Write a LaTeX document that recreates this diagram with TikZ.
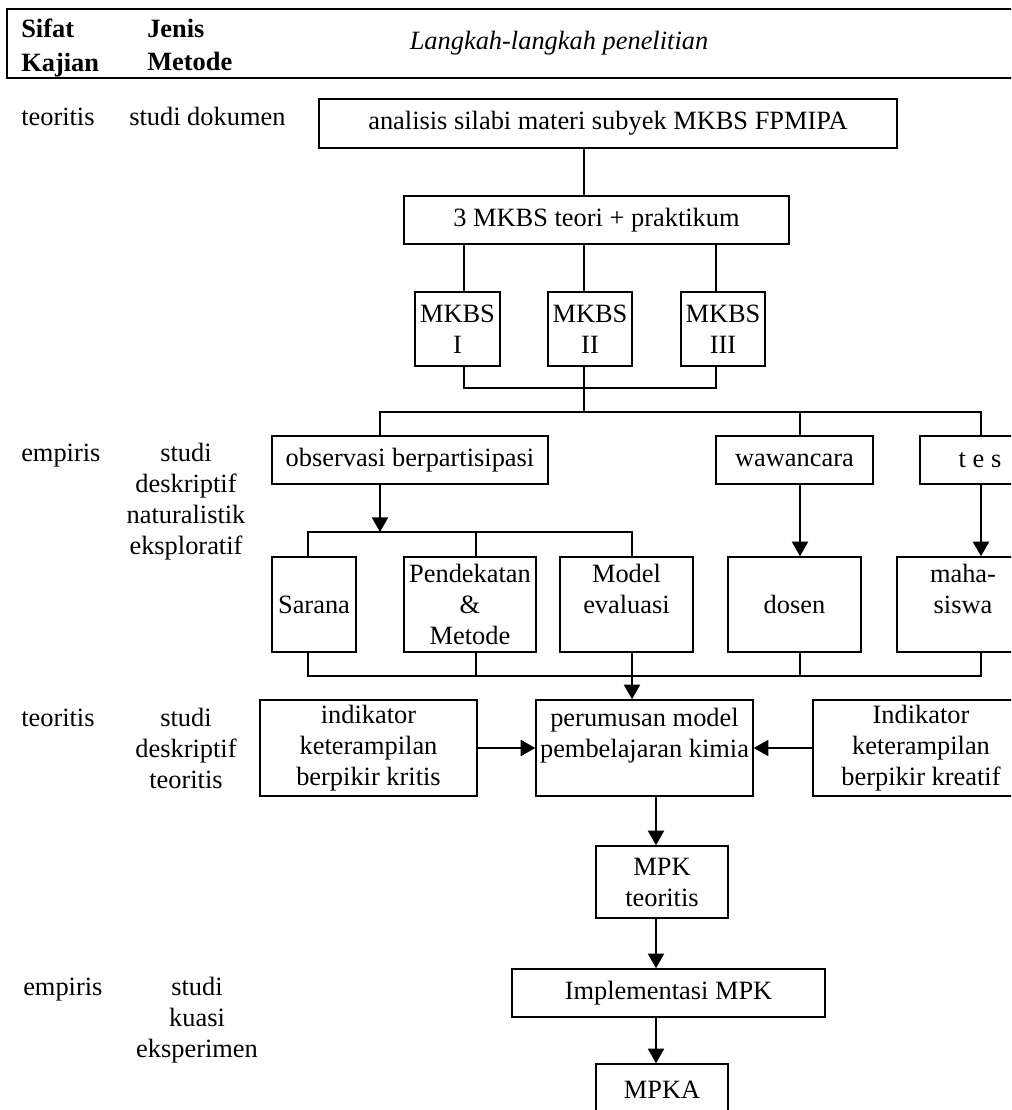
\documentclass[tikz,border=0pt]{standalone}
\usepackage{fontspec}
\setmainfont{Liberation Serif}
\usetikzlibrary{arrows.meta}
\newcommand{\fs}{\fontsize{19.8pt}{23.25pt}\selectfont}
\begin{document}
\begin{tikzpicture}[x=0.75pt,y=-0.75pt,
  bx/.style 2 args={draw, line width=1.1pt, inner sep=1pt, align=center, font=\fs,
     minimum width=#1*0.75pt, minimum height=#2*0.75pt},
  lbl/.style={inner sep=0pt, font=\fs},
  hd/.style={inner sep=0pt, align=left, anchor=north west, font=\fontsize{19.8pt}{25pt}\selectfont\bfseries},
  ln/.style={line width=1.1pt},
  arr/.style={line width=1.7pt, -{Triangle[width=12pt,length=11pt]}}]
\useasboundingbox (0,0) rectangle (1011,1110);
\clip (0,0) rectangle (1011,1110);
\fill[white] (0,0) rectangle (1011,1110);
% header
\draw[line width=2pt] (1030,9) -- (7,9) -- (7,78) -- (1030,78);
\node[hd] (h1) at (21,19) {Sifat\\Kajian};
\node[hd] (h2) at (147,19) {Jenis\\Metode};
\node[lbl, font=\fs\itshape] (h3) at (559,43) {Langkah-langkah penelitian};
% left labels
\node[lbl, anchor=base west] (s1) at (21,125) {teoritis};
\node[lbl, anchor=base west] (j1) at (129,125) {studi dokumen};
\node[lbl, anchor=base west] (s2) at (21,461) {empiris};
\node[lbl, align=center, anchor=north] (j2) at (186,443) {studi\\deskriptif\\naturalistik\\eksploratif};
\node[lbl, anchor=base west] (s3) at (21,726) {teoritis};
\node[lbl, align=center, anchor=north] (j3) at (186,708) {studi\\deskriptif\\teoritis};
\node[lbl, anchor=base west] (s4) at (23,995) {empiris};
\node[lbl, align=center, anchor=north] (j4) at (197,977) {studi\\kuasi\\eksperimen};
% boxes
\node[bx={578}{49}] (ana) at (608,123.5) {analisis silabi materi subyek MKBS FPMIPA};
\node[bx={385}{48}] (tiga) at (596.5,220) {3 MKBS teori + praktikum};
\node[bx={85}{74}] (m1) at (457.5,329) {MKBS\\I};
\node[bx={84}{74}] (m2) at (590,329) {MKBS\\II};
\node[bx={84}{74}] (m3) at (723,329) {MKBS\\III};
\node[bx={276}{48}] (obs) at (410,460) {observasi berpartisipasi};
\node[bx={157}{48}] (waw) at (794.5,460) {wawancara};
\node[bx={120}{48}] (tes) at (980,460) {t e s};
\node[bx={84}{95}] (sar) at (314,604.5) {Sarana};
\node[bx={132}{95}] (pen) at (470,604.5) {Pendekatan\\\&\\Metode};
\node[bx={133}{95}] (mod) at (626.5,604.5) {Model\\evaluasi\\\mbox{}};
\node[bx={133}{95}] (dos) at (794.5,604.5) {dosen};
\node[bx={132}{95}] (mah) at (963,604.5) {maha-\\siswa\\\mbox{}};
\node[bx={217}{96}] (kri) at (368.5,748) {indikator\\keterampilan\\berpikir kritis};
\node[bx={217}{96}] (per) at (644.5,748) {perumusan model\\pembelajaran kimia\\\mbox{}};
\node[bx={216}{96}] (kre) at (921,748) {Indikator\\keterampilan\\berpikir kreatif};
\node[bx={132}{72}] (mpk) at (662,882) {MPK\\teoritis};
\node[bx={313}{48}] (imp) at (668.5,993) {Implementasi MPK};
\node[bx={132}{52}] (mpka) at (662,1090) {MPKA};
% bus coordinates
\coordinate (xA) at (584,0);
\coordinate (x1) at (464,0);
\coordinate (x3) at (716,0);
\coordinate (xO) at (380,0);
\coordinate (xW) at (800,0);
\coordinate (xT) at (981,0);
\coordinate (xS) at (308,0);
\coordinate (xP) at (476,0);
\coordinate (xM) at (632,0);
\coordinate (xD) at (656,0);
\coordinate (b1) at (584,388);
\coordinate (b2) at (584,412);
\coordinate (b3) at (380,532);
\coordinate (b4) at (632,676);
% connectors
\draw[ln] (ana.south -| xA) -- (tiga.north -| xA);
\draw[ln] (tiga.south -| x1) -- (m1.north -| x1);
\draw[ln] (tiga.south -| xA) -- (m2.north -| xA);
\draw[ln] (tiga.south -| x3) -- (m3.north -| x3);
\draw[ln] (m1.south -| x1) |- (b1);
\draw[ln] (m3.south -| x3) |- (b1);
\draw[ln] (m2.south -| xA) -- (b2);
\draw[ln] (obs.north -| xO) |- (b2) -| (tes.north -| xT);
\draw[ln] (b2 -| xW) -- (waw.north -| xW);
\draw[arr] (obs.south -| xO) -- (b3);
\draw[ln] (sar.north -| xS) |- (b3) -| (mod.north -| xM);
\draw[ln] (b3 -| xP) -- (pen.north -| xP);
\draw[arr] (waw.south -| xW) -- (dos.north -| xW);
\draw[arr] (tes.south -| xT) -- (mah.north -| xT);
\draw[ln] (sar.south -| xS) |- (b4) -| (mah.south -| xT);
\draw[ln] (pen.south -| xP) -- (b4 -| xP);
\draw[ln] (dos.south -| xW) -- (b4 -| xW);
\draw[ln] (mod.south -| xM) -- (b4);
\draw[arr] (b4) -- (per.north -| xM);
\draw[arr] (kri.east) -- (per.west);
\draw[arr] (kre.west) -- (per.east);
\draw[arr] (per.south -| xD) -- (mpk.north -| xD);
\draw[arr] (mpk.south -| xD) -- (imp.north -| xD);
\draw[arr] (imp.south -| xD) -- (mpka.north -| xD);
\end{tikzpicture}
\end{document}
